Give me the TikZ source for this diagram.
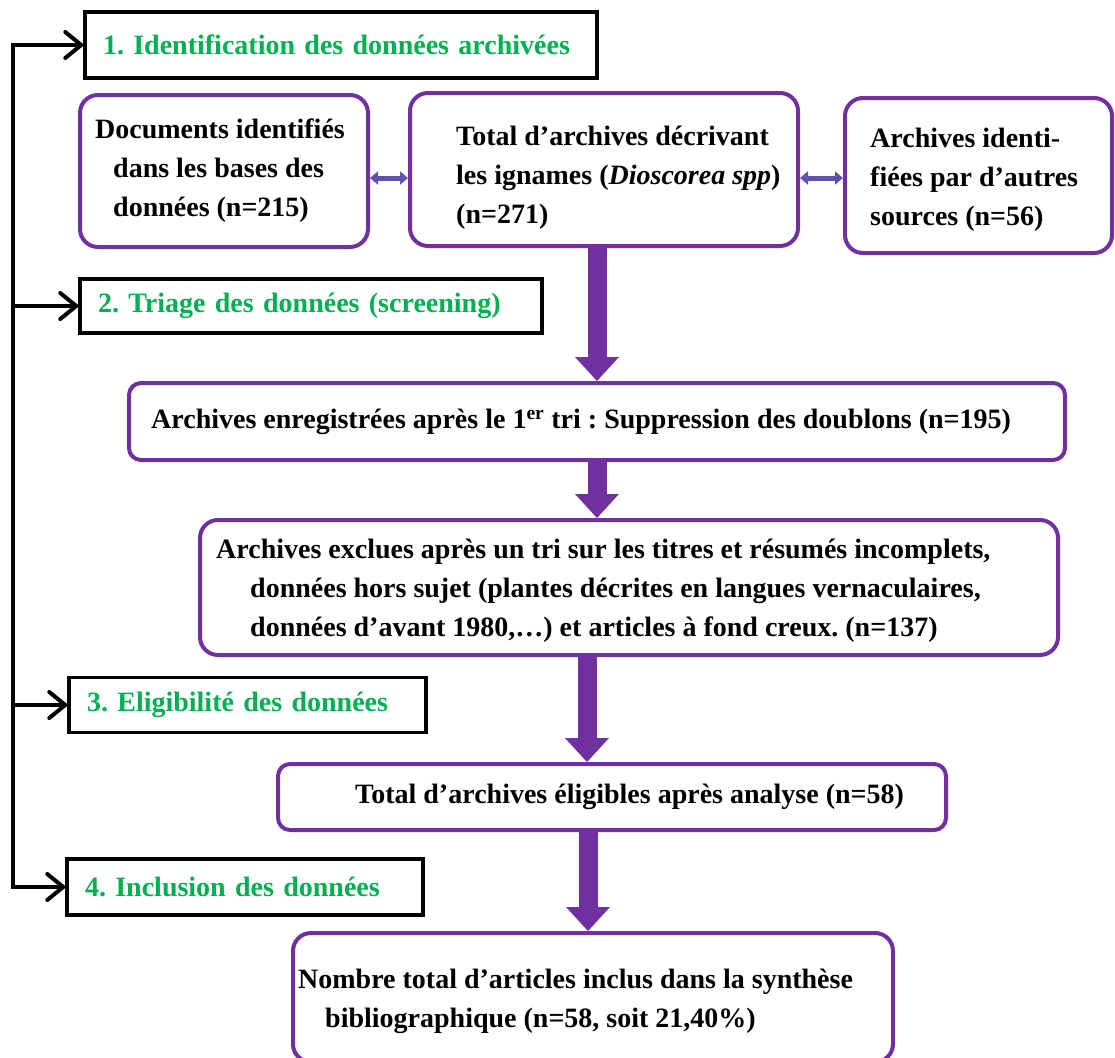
\documentclass[tikz,border=0pt]{standalone}
\usepackage{fontspec}
\setmainfont{Liberation Serif}
\usetikzlibrary{arrows.meta}
\definecolor{purp}{RGB}{112,48,160}
\definecolor{grn}{RGB}{0,176,80}
\definecolor{dblarr}{RGB}{96,80,176}
\frenchspacing

\begin{document}
\begin{tikzpicture}[x=1pt, y=-1pt,
    every node/.style={font=\fontsize{28}{39}\selectfont\bfseries},
    stagebox/.style={draw, line width=3.5pt, inner xsep=18pt, inner ysep=0pt, align=left, text=grn},
    pbox/.style={draw=purp, line width=4pt, rounded corners=18pt, inner sep=0pt},
    ptext/.style={anchor=west, align=left, inner sep=0pt},
    branch/.style={line width=4pt, line cap=rect, -{Straight Barb[length=16pt,width=26pt,round]}},
    bigarrow/.style={draw=purp, line width=19pt, -{Triangle[length=24pt,width=44pt,line width=0pt]}},
    dbl/.style={draw=dblarr, line width=5pt, {Triangle[length=8pt,width=13pt]}-{Triangle[length=8pt,width=13pt]}}]

\useasboundingbox (0,0) rectangle (1115,1057);

% stages
\node[stagebox, text width=476pt, minimum height=66pt] (stage1) at (341,45) {1. Identification des données archivées};
\node[stagebox, text width=426pt, minimum height=54pt] (stage2) at (311,306) {2. Triage des données (screening)};
\node[stagebox, text width=321pt, minimum height=55pt] (stage3) at (247.5,705) {3. Eligibilité des données};
\node[stagebox, text width=320pt, minimum height=56pt] (stage4) at (245,887) {4. Inclusion des données};

% boxes
\node[pbox, minimum width=288pt, minimum height=152pt] (docs) at (224,171) {};
\node[pbox, minimum width=388pt, minimum height=153pt] (total) at (604,169.5) {};
\node[pbox, minimum width=267pt, minimum height=155pt] (autres) at (978.5,175.5) {};
\node[pbox, rounded corners=12pt, minimum width=936pt, minimum height=77pt] (doublons) at (597,421.5) {};
\node[pbox, minimum width=858pt, minimum height=135pt] (exclues) at (629,587.5) {};
\node[pbox, rounded corners=12pt, minimum width=668pt, minimum height=66pt] (eligibles) at (612,797) {};
\node[pbox, minimum width=600pt, minimum height=129pt] (inclus) at (593,997.5) {};

% texts
\node[ptext] (docs-t) at ([xshift=17pt]docs.west) {Documents identifiés\\\hspace*{18pt}dans les bases des\\\hspace*{18pt}données (n=215)};
\node[ptext] (total-t) at ([xshift=48pt,yshift=-8pt]total.west) {Total d'archives décrivant\\les ignames (\textit{Dioscorea spp})\\(n=271)};
\node[ptext] (autres-t) at ([xshift=27pt,yshift=-4pt]autres.west) {Archives identi-\\fiées par d'autres\\sources (n=56)};
\node[ptext] (doublons-t) at ([xshift=24pt]doublons.west) {Archives enregistrées après le 1\textsuperscript{er} tri : Suppression des doublons (n=195)};
\node[ptext] (exclues-t) at ([xshift=18pt,yshift=-3pt]exclues.west) {Archives exclues après un tri sur les titres et résumés incomplets,\\\hspace*{34pt}données hors sujet (plantes décrites en langues vernaculaires,\\\hspace*{34pt}données d'avant 1980,…) et articles à fond creux. (n=137)};
\node[ptext] (eligibles-t) at ([xshift=79pt]eligibles.west) {Total d'archives éligibles après analyse (n=58)};
\node[ptext] (inclus-t) at ([xshift=7pt,yshift=-4pt]inclus.west) {Nombre total d'articles inclus dans la synthèse\\\hspace*{27pt}bibliographique (n=58, soit 21,40\%)};

% left spine
\coordinate (spine) at (13,0);
\draw[branch] (stage4.west -| spine) -- (stage1.west -| spine) -- (stage1.west);
\draw[branch] (stage2.west -| spine) -- (stage2.west);
\draw[branch] (stage3.west -| spine) -- (stage3.west);
\draw[branch] (stage4.west -| spine) -- (stage4.west);

% arrows
\draw[dbl] ([yshift=-7pt]docs.east) -- ([yshift=-7pt]docs.east -| total.west);
\draw[dbl] ([yshift=-8.5pt]total.east) -- ([yshift=-8.5pt]total.east -| autres.west);
\draw[bigarrow] (total.south -| doublons.north) -- (doublons.north);
\draw[bigarrow] (doublons.south) -- (doublons.south |- exclues.north);
\draw[bigarrow] ([xshift=-42pt]exclues.south) -- ([xshift=-42pt]exclues.south |- eligibles.north);
\draw[bigarrow] ([xshift=-24pt]eligibles.south) -- ([xshift=-24pt]eligibles.south |- inclus.north);
\end{tikzpicture}
\end{document}
